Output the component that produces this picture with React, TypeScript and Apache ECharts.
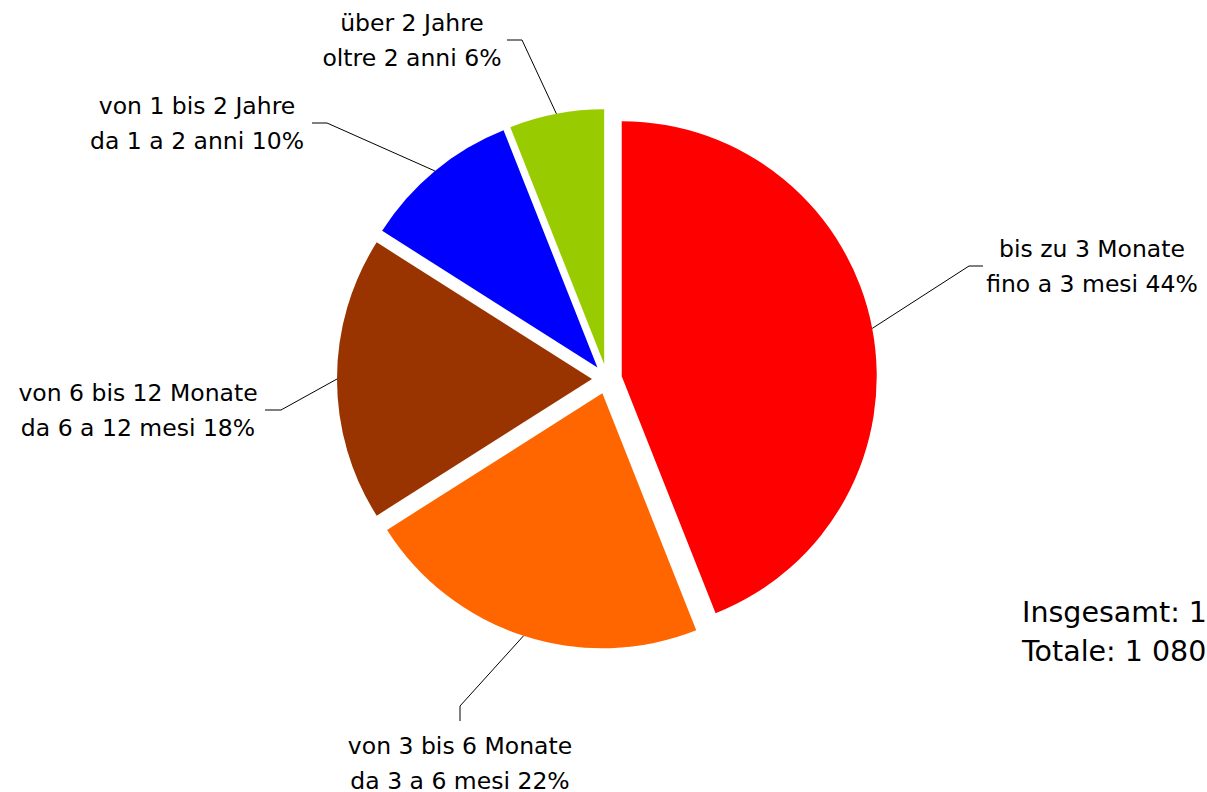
import React, { useEffect, useRef } from "react";
import * as echarts from "echarts";

const categoriesDE = ["bis zu 3 Monate", "von 3 bis 6 Monate", "von 6 bis 12 Monate", "von 1 bis 2 Jahre", "über 2 Jahre"];
const categoriesIT = ["fino a 3 mesi", "da 3 a 6 mesi", "da 6 a 12 mesi", "da 1 a 2 anni", "oltre 2 anni"];
const shares = [44, 22, 18, 10, 6];
const sliceColors = ["#ff0000", "#ff6600", "#993300", "#0000ff", "#99cc00"];
const totalLines = ["Insgesamt: 1 080", "Totale: 1 080"];

// label layout (text block centre, elbow of leader line, end of leader line)
const labelPlacement = [
  { x: 1092, y: 266, elbow: [969, 266], end: [983, 266] },
  { x: 460, y: 763, elbow: [460, 706], end: [460, 721] },
  { x: 138, y: 410, elbow: [281, 410], end: [265, 410] },
  { x: 197, y: 123, elbow: [327, 123], end: [312, 123] },
  { x: 412, y: 40, elbow: [522, 40], end: [507, 40] },
];

const FONT = "'DejaVu Sans', 'Noto Sans', sans-serif";

export default function App() {
  const ref = useRef<HTMLDivElement>(null);
  useEffect(() => {
    if (!ref.current) return;
    const chart = echarts.init(ref.current, null, { renderer: "svg" });
    const center = [607, 379];
    const radius = 255;
    const offset = 15;
    const total = shares.reduce((a, b) => a + b, 0);
    const data = shares.map((v, i) => ({
      value: v,
      name: categoriesDE[i],
      selected: true,
      itemStyle: { color: sliceColors[i] },
    }));

    // leader lines start at the outer arc at each slice's mid angle
    const graphics: any[] = [];
    let acc = 0;
    shares.forEach((v, i) => {
      const mid = ((acc + v / 2) / total) * Math.PI * 2;
      acc += v;
      const dx = Math.sin(mid);
      const dy = -Math.cos(mid);
      const start = [center[0] + dx * (radius + offset), center[1] + dy * (radius + offset)];
      const pl = labelPlacement[i];
      graphics.push({
        type: "polyline",
        silent: true,
        shape: { points: [start, pl.elbow, pl.end] },
        style: { stroke: "#000000", lineWidth: 1, fill: null },
        z: 10,
      });
      graphics.push({
        type: "text",
        x: pl.x,
        y: pl.y,
        silent: true,
        style: {
          text: `${categoriesDE[i]}\n${categoriesIT[i]} ${Math.round((v / total) * 100)}%`,
          fontFamily: FONT,
          fontSize: 23.5,
          lineHeight: 35,
          fill: "#000000",
          align: "center",
          verticalAlign: "middle",
        },
        z: 10,
      });
    });
    graphics.push({
      type: "text",
      x: 1022,
      y: 632,
      silent: true,
      style: {
        text: totalLines.join("\n"),
        fontFamily: FONT,
        fontSize: 28.5,
        lineHeight: 39,
        fill: "#000000",
        align: "left",
        verticalAlign: "middle",
      },
    });

    chart.setOption({
      animation: false,
      backgroundColor: "#ffffff",
      series: [
        {
          type: "pie",
          center,
          radius,
          startAngle: 90,
          clockwise: true,
          selectedMode: "multiple",
          selectedOffset: offset,
          avoidLabelOverlap: false,
          emphasis: { disabled: true },
          data,
          itemStyle: { borderWidth: 0 },
          label: { show: false },
          labelLine: { show: false },
        },
      ],
      graphic: graphics,
    });
    return () => chart.dispose();
  }, []);
  return (
    <div
      ref={ref}
      style={{ position: "fixed", left: 0, top: 0, width: 1207, height: 792, background: "#fff" }}
    />
  );
}
